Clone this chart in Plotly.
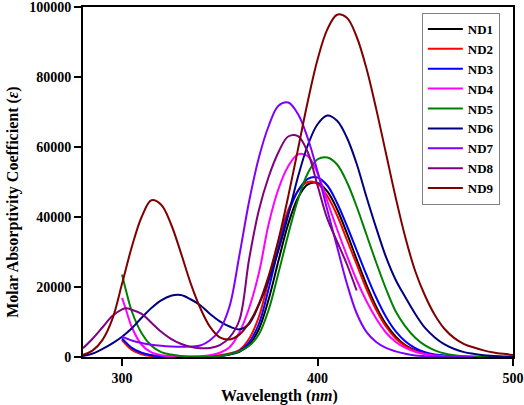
import plotly.graph_objects as go

# ---------------- data ----------------
wl1 = [300,305,310,315,320,325,330,335,340,345,350,355,360,365,370,375,380,385,390,395,400,405,410,415,420,425,430,435,440,445,450,455,460,465,470,475,480]
nd1 = [5000,2300,1000,400,150,50,0,0,0,100,300,700,1500,3500,8000,16500,27500,38000,45500,49300,49700,47300,42200,35400,27900,20700,14400,9400,5800,3300,1900,1000,550,300,150,80,0]

wl2 = [300,305,310,315,320,325,330,335,340,345,350,355,360,365,370,375,380,385,390,395,400,405,410,415,420,425,430,435,440,445,450,455,460,465,470,475,480]
nd2 = [4800,2000,800,300,100,0,0,0,50,200,500,1000,2000,5200,11500,22000,33000,42000,47500,50000,49500,46000,40500,33500,26500,19500,13500,8700,5300,3100,1700,900,450,200,100,50,0]

wl3 = [300,305,310,315,320,325,330,335,340,345,350,355,360,365,370,375,380,385,390,395,400,405,410,415,420,425,430,435,440,445,450,455,460,465,470,475,480]
nd3 = [5300,2600,1200,500,200,80,0,0,0,100,300,800,1700,4200,9500,19500,31000,41000,47500,50900,51300,49000,44000,37500,30500,23500,17000,11500,7300,4400,2500,1400,750,400,200,100,0]

wl4 = [300,302,305,310,315,320,325,330,335,340,345,350,355,360,365,370,375,380,385,390,395,400,405,410,415,420,425,430,435,440,445,450,455,460,465,470,475,480]
nd4 = [16900,13500,8500,3500,1300,500,200,100,100,200,500,1200,2800,7000,14000,24000,38000,48000,54500,57900,57400,52500,44500,36500,29000,22000,16000,11000,7000,4300,2600,1500,850,450,250,120,60,0]

wl5 = [300,302,305,310,315,320,325,330,335,340,345,350,355,360,365,370,375,380,385,390,395,400,405,410,415,420,425,430,435,440,445,450,455,460,465,470,475,480,485,490]
nd5 = [23600,19000,13000,6800,3200,1400,700,300,150,100,100,300,800,1600,3200,6500,13500,24000,35000,45000,52500,56500,57000,55000,50000,43000,35000,27000,19500,13000,8700,5500,3300,1900,1000,500,250,120,50,0]

wl6 = [280,285,290,295,300,305,310,315,320,325,330,335,340,345,350,355,360,365,370,375,380,385,390,395,400,405,410,415,420,425,430,435,440,445,450,455,460,465,470,475,480,485,490,495,500]
nd6 = [300,1000,2300,3900,5800,8200,11200,14000,16200,17500,17700,16500,14800,12300,10200,8700,7900,9500,15000,22000,30500,40500,51500,60500,66500,69000,67500,62700,55200,45800,36900,28600,22000,17000,12300,8300,5600,3600,2300,1400,900,500,300,150,100]

wl7 = [300,305,310,315,320,325,330,335,340,345,350,355,360,365,370,375,380,385,390,395,400,405,410,415,420,425,430,435,440,445,450,455,460,465,470,475,480]
nd7 = [5800,4700,4000,3500,3200,3000,2900,3000,3300,4800,7800,14500,29000,44500,57000,66000,71800,72700,69400,62500,53000,42000,31500,21000,12500,7200,4300,2600,1600,900,450,250,120,60,30,0,0]

wl8 = [280,285,290,295,300,302,305,310,315,320,325,330,335,340,345,350,355,360,365,370,375,380,385,390,395,400,405,410,415,420]
nd8 = [2500,5300,8500,11700,13600,13900,13500,12300,9800,7200,5200,3800,2900,2500,2600,3400,5600,10500,28000,42000,51500,58500,63000,63100,58500,49000,39500,33000,26500,19000]

wl9 = [280,285,290,295,300,305,310,315,320,325,330,335,340,345,350,355,360,365,370,375,380,385,390,395,400,405,410,415,420,425,430,435,440,445,450,455,460,465,470,475,480,485,490,495,500]
nd9 = [600,1900,4900,10800,21000,31500,40000,44800,43500,38000,29900,21200,14000,8600,5600,5000,6400,9800,15200,23200,33500,45900,59400,73000,85000,93600,97800,96900,91500,82500,70900,58200,45500,34000,24500,17500,12000,8000,5400,3700,2700,1900,1300,900,600]

names = ["ND1", "ND2", "ND3", "ND4", "ND5", "ND6", "ND7", "ND8", "ND9"]
xs = [wl1, wl2, wl3, wl4, wl5, wl6, wl7, wl8, wl9]
ys = [nd1, nd2, nd3, nd4, nd5, nd6, nd7, nd8, nd9]
colors = ["#000000", "#ff0000", "#0000ff", "#ff00ff", "#008000",
          "#000080", "#8000ff", "#800080", "#800000"]

x_ticks = [300, 400, 500]
y_ticks = [0, 20000, 40000, 60000, 80000, 100000]
x_title = "<b>Wavelength (<i>nm</i>)</b>"
y_title = "<b>Molar Absorptivity Coefficient (<i>ε</i>)</b>"

FONT = "Liberation Serif"

fig = go.Figure()
for n, x, y, c in zip(names, xs, ys, colors):
    fig.add_trace(go.Scatter(
        x=x, y=y, name=n, mode="lines",
        line=dict(color=c, width=2, shape="spline", smoothing=1.0),
    ))

fig.update_layout(
    width=524, height=405,
    margin=dict(l=83, r=11, t=7, b=48),
    paper_bgcolor="white", plot_bgcolor="white",
    font=dict(family=FONT, size=14, color="black"),
    showlegend=True,
    legend=dict(
        x=0.788, y=0.983, xanchor="left", yanchor="top",
        bgcolor="white", bordercolor="#808080", borderwidth=1,
        font=dict(family=FONT, size=13, color="black", weight="bold"),
        tracegroupgap=0, itemwidth=35,
    ),
    annotations=[
        dict(text=x_title, xref="paper", yref="paper", x=0.458, y=-0.111,
             xanchor="center", yanchor="middle", showarrow=False,
             font=dict(family=FONT, size=16, color="black")),
        dict(text=y_title, xref="paper", yref="paper", x=-0.163, y=0.443,
             xanchor="center", yanchor="middle", showarrow=False, textangle=-90,
             font=dict(family=FONT, size=16, color="black")),
    ],
)

fig.update_xaxes(
    range=[280, 500], tickvals=x_ticks, ticktext=[str(v) for v in x_ticks],
    showgrid=False, zeroline=False, automargin=False, ticklabeloverflow="allow",
    showline=True, linecolor="black", linewidth=2, mirror=True,
    ticks="outside", ticklen=7, tickwidth=2, tickcolor="black",
    tickfont=dict(family=FONT, size=14, color="black", weight="bold"),
)
fig.update_yaxes(
    range=[0, 100000], tickvals=y_ticks, ticktext=[str(v) for v in y_ticks],
    showgrid=False, zeroline=False, automargin=False, ticklabeloverflow="allow",
    showline=True, linecolor="black", linewidth=2, mirror=True,
    ticks="outside", ticklen=7, tickwidth=2, tickcolor="black",
    tickfont=dict(family=FONT, size=14, color="black", weight="bold"),
)

fig.write_html("out.html", config={"displayModeBar": False},
               post_script="document.body.style.margin='0';")
